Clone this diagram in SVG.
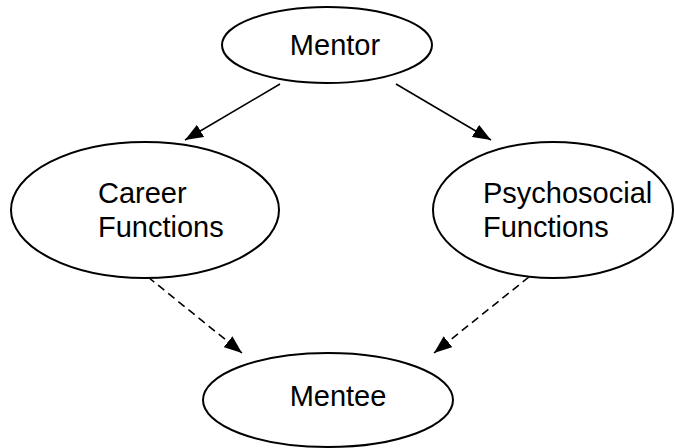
<svg xmlns="http://www.w3.org/2000/svg" width="675" height="448" viewBox="0 0 675 448">
<style>
.node{fill:#fff;stroke:#000;stroke-width:2}
.t{font-family:"Liberation Sans",Arial,sans-serif;font-size:29px;fill:#000}
.e{stroke:#000;stroke-width:1.6;fill:none}
.d{stroke-dasharray:8 5}
</style>
<defs>
<marker id="ah2" viewBox="0 0 18 14" refX="18" refY="7" markerWidth="18" markerHeight="14" markerUnits="userSpaceOnUse" orient="auto">
<path d="M0,0 L18,7 L0,14 z" fill="#000"/>
</marker>
</defs>
<g id="connectors">
<line class="e" x1="280" y1="84" x2="185" y2="140" marker-end="url(#ah2)"/>
<line class="e" x1="396" y1="84" x2="491" y2="140" marker-end="url(#ah2)"/>
<line class="e d" x1="148" y1="277" x2="242" y2="353" marker-end="url(#ah2)"/>
<line class="e d" x1="529" y1="277" x2="434" y2="353" marker-end="url(#ah2)"/>
</g>
<g id="mentor">
<ellipse class="node" cx="327" cy="45" rx="105" ry="38"/>
<text class="t" x="335" y="55" text-anchor="middle">Mentor</text>
</g>
<g id="career">
<ellipse class="node" cx="145" cy="210" rx="134" ry="68"/>
<text class="t" x="98" y="203">Career</text>
<text class="t" x="98" y="237">Functions</text>
</g>
<g id="psychosocial">
<ellipse class="node" cx="553" cy="210" rx="120" ry="68"/>
<text class="t" x="483" y="203">Psychosocial</text>
<text class="t" x="483" y="237">Functions</text>
</g>
<g id="mentee">
<ellipse class="node" cx="328" cy="400" rx="125" ry="47"/>
<text class="t" x="338" y="406" text-anchor="middle">Mentee</text>
</g>
</svg>
